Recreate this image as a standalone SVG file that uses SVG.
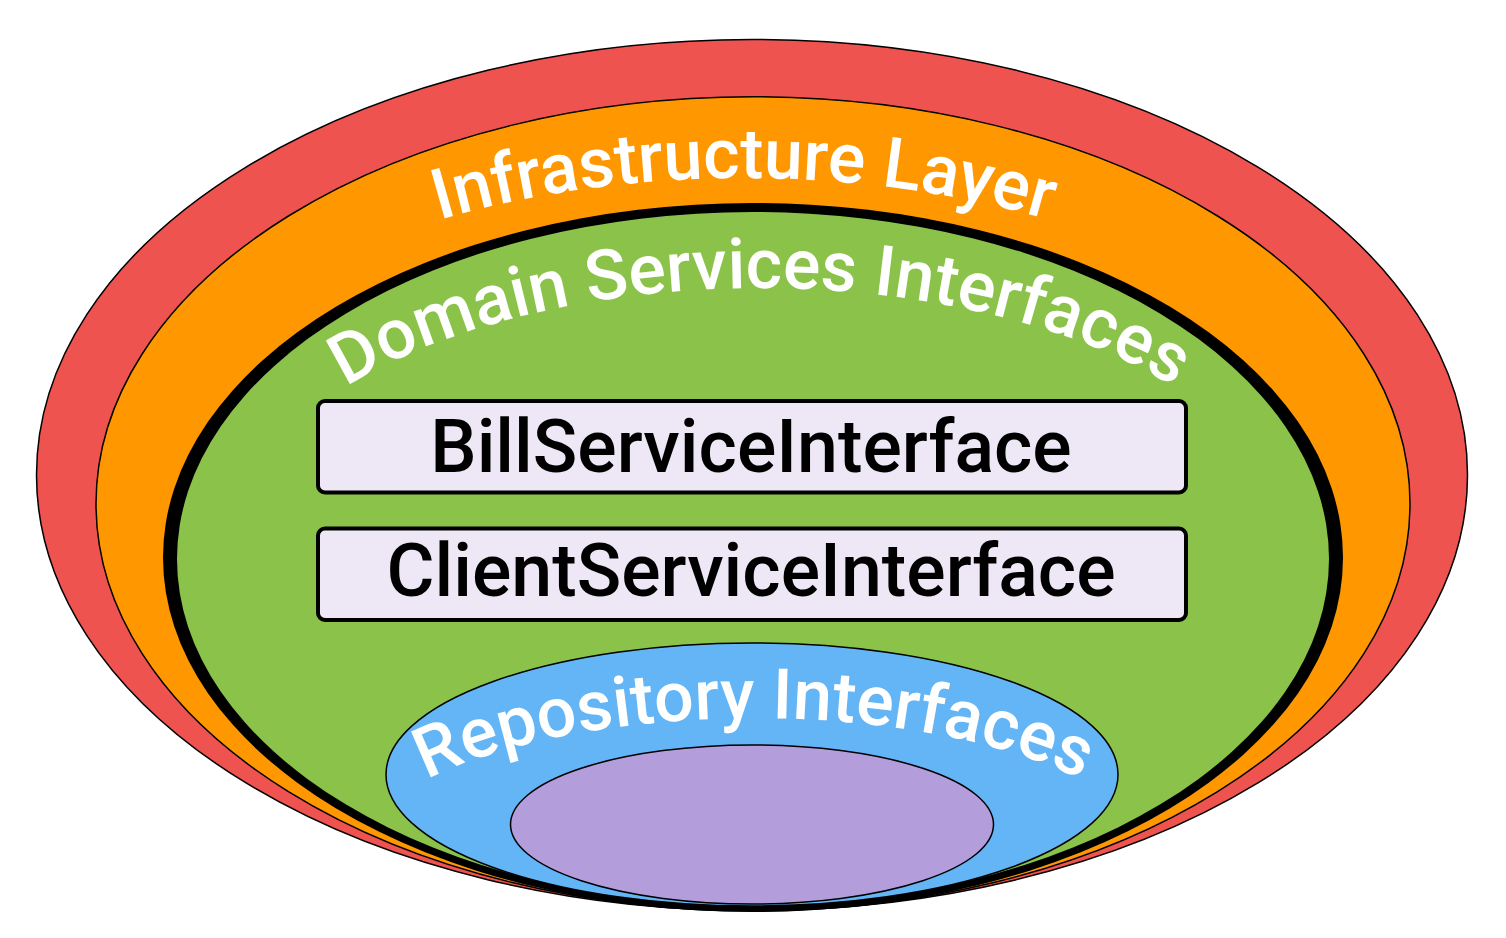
<svg xmlns="http://www.w3.org/2000/svg" xmlns:xlink="http://www.w3.org/1999/xlink" width="1506" height="938" viewBox="0 0 1506 938">
<style>
.layer{stroke:#000;stroke-width:1.5}
.lbl{font-family:Roboto,"Liberation Sans",sans-serif;font-weight:500;font-size:70px;fill:#fff}
.box{fill:#EDE7F6;stroke:#000;stroke-width:4}
.boxt{font-family:Roboto,"Liberation Sans",sans-serif;font-weight:500;font-size:73.5px;fill:#000;text-anchor:middle}
</style>
<defs>
<path id="arcInfra" d="M161.4,391.2 A620,324 0 0 1 1326.6,391.2"/>
<path id="arcDomain" d="M234.1,509.5 A534,268 0 0 1 1285.9,509.5"/>
<path id="arcRepo" d="M355.2,842 A405,150 0 0 1 1152.8,842"/>
</defs>
<rect width="1506" height="938" fill="#fff"/>
<g id="infrastructure">
<ellipse class="layer" cx="752" cy="475" rx="715.5" ry="435.5" fill="#EF5350"/>
</g>
<g id="infrastructure-inner">
<ellipse class="layer" cx="753" cy="503.8" rx="657" ry="407" fill="#FF9800"/>
<text class="lbl" text-anchor="middle"><textPath href="#arcInfra" xlink:href="#arcInfra" startOffset="50%">Infrastructure Layer</textPath></text>
</g>
<g id="domain-services">
<ellipse cx="753" cy="557.5" rx="590" ry="354.5" fill="#000"/>
<ellipse cx="753" cy="559" rx="576" ry="347" fill="#8BC34A"/>
<text class="lbl" text-anchor="middle"><textPath href="#arcDomain" xlink:href="#arcDomain" startOffset="50%">Domain Services Interfaces</textPath></text>
</g>
<g id="bill-service">
<rect class="box" x="318" y="401" width="868" height="91.5" rx="7"/>
<text class="boxt" x="751" y="472">BillServiceInterface</text>
</g>
<g id="client-service">
<rect class="box" x="318" y="528.5" width="868" height="91.5" rx="7"/>
<text class="boxt" x="751" y="596">ClientServiceInterface</text>
</g>
<g id="repository">
<ellipse class="layer" cx="752" cy="774.5" rx="366" ry="131.5" fill="#64B5F6"/>
<text class="lbl" text-anchor="middle"><textPath href="#arcRepo" xlink:href="#arcRepo" startOffset="50%">Repository Interfaces</textPath></text>
</g>
<g id="core">
<ellipse class="layer" cx="752" cy="824.5" rx="241.5" ry="79.5" fill="#B39DDB"/>
</g>
<g id="connectors"/>
</svg>
